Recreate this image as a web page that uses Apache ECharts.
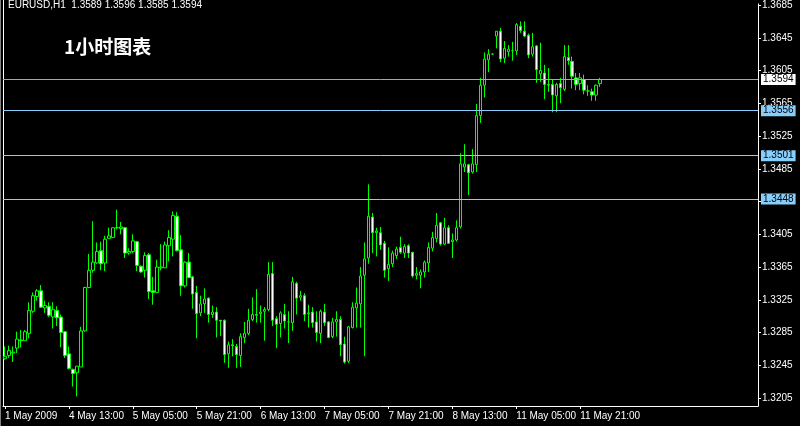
<!DOCTYPE html>
<html>
<head>
<meta charset="utf-8">
<script src="https://cdn.jsdelivr.net/npm/echarts@6/dist/echarts.min.js"></script>
<style>
html,body{margin:0;padding:0;background:#000;}
#c{width:800px;height:426px;}
</style>
</head>
<body>
<div id="c"></div>
<script>
// ---- data (EURUSD H1, 150 bars) ----
var open = [1.3253,1.3257,1.3260,1.3266,1.3276,1.3275,1.3284,1.3311,1.3329,1.3336,
1.3315,1.3317,1.3304,1.3312,1.3304,1.3286,1.3259,1.3240,1.3236,1.3243,
1.3287,1.3340,1.3361,1.3370,1.3385,1.3370,1.3400,1.3401,1.3413,1.3412,
1.3413,1.3382,1.3384,1.3396,1.3366,1.3361,1.3380,1.3336,1.3334,1.3364,
1.3364,1.3391,1.3399,1.3427,1.3386,1.3342,1.3371,1.3353,1.3334,1.3309,
1.3320,1.3327,1.3307,1.3310,1.3300,1.3300,1.3259,1.3270,1.3268,1.3257,
1.3279,1.3284,1.3301,1.3306,1.3308,1.3311,1.3313,1.3357,1.3302,1.3296,
1.3307,1.3298,1.3297,1.3345,1.3328,1.3330,1.3308,1.3310,1.3298,1.3284,
1.3310,1.3298,1.3280,1.3298,1.3301,1.3271,1.3250,1.3291,1.3315,1.3320,
1.3355,1.3376,1.3426,1.3407,1.3407,1.3394,1.3363,1.3369,1.3379,1.3389,
1.3382,1.3391,1.3383,1.3355,1.3355,1.3359,1.3370,1.3388,1.3400,1.3419,
1.3393,1.3413,1.3396,1.3398,1.3414,1.3487,1.3490,1.3481,1.3490,1.3550,
1.3587,1.3618,1.3625,1.3647,1.3653,1.3620,1.3628,1.3629,1.3629,1.3659,
1.3653,1.3648,1.3625,1.3635,1.3601,1.3602,1.3587,1.3588,1.3574,1.3589,
1.3582,1.3621,1.3616,1.3596,1.3589,1.3594,1.3580,1.3579,1.3575,1.3589];
var high = [1.3268,1.3269,1.3268,1.3286,1.3288,1.3288,1.3322,1.3334,1.3338,1.3343,
1.3324,1.3322,1.3322,1.3317,1.3307,1.3287,1.3268,1.3241,1.3244,1.3292,
1.3341,1.3381,1.3421,1.3395,1.3396,1.3403,1.3413,1.3413,1.3435,1.3420,
1.3414,1.3388,1.3405,1.3397,1.3367,1.3383,1.3382,1.3353,1.3374,1.3393,
1.3396,1.3410,1.3433,1.3432,1.3404,1.3372,1.3382,1.3354,1.3342,1.3330,
1.3339,1.3328,1.3318,1.3316,1.3300,1.3301,1.3274,1.3277,1.3271,1.3284,
1.3298,1.3314,1.3328,1.3338,1.3318,1.3316,1.3371,1.3371,1.3305,1.3311,
1.3320,1.3311,1.3353,1.3347,1.3336,1.3333,1.3319,1.3316,1.3311,1.3313,
1.3320,1.3299,1.3303,1.3311,1.3305,1.3280,1.3293,1.3322,1.3340,1.3365,
1.3395,1.3466,1.3431,1.3413,1.3414,1.3397,1.3389,1.3385,1.3390,1.3402,
1.3393,1.3393,1.3383,1.3365,1.3362,1.3373,1.3395,1.3408,1.3431,1.3420,
1.3425,1.3416,1.3406,1.3422,1.3504,1.3515,1.3491,1.3509,1.3564,1.3596,
1.3627,1.3631,1.3626,1.3653,1.3657,1.3641,1.3636,1.3640,1.3663,1.3665,
1.3665,1.3650,1.3651,1.3636,1.3639,1.3612,1.3608,1.3594,1.3590,1.3596,
1.3636,1.3636,1.3622,1.3602,1.3602,1.3600,1.3587,1.3583,1.3588,1.3596];
var low = [1.3252,1.3254,1.3249,1.3260,1.3267,1.3275,1.3278,1.3309,1.3324,1.3315,
1.3309,1.3304,1.3290,1.3293,1.3267,1.3254,1.3240,1.3219,1.3207,1.3243,
1.3286,1.3339,1.3358,1.3369,1.3361,1.3360,1.3400,1.3401,1.3411,1.3405,
1.3376,1.3380,1.3382,1.3360,1.3358,1.3352,1.3326,1.3319,1.3334,1.3361,
1.3364,1.3372,1.3378,1.3384,1.3330,1.3340,1.3352,1.3314,1.3278,1.3305,
1.3309,1.3297,1.3303,1.3279,1.3281,1.3248,1.3242,1.3256,1.3242,1.3243,
1.3272,1.3282,1.3299,1.3297,1.3297,1.3275,1.3311,1.3293,1.3266,1.3279,
1.3290,1.3272,1.3287,1.3307,1.3324,1.3299,1.3291,1.3291,1.3274,1.3272,
1.3293,1.3278,1.3278,1.3280,1.3256,1.3247,1.3248,1.3290,1.3291,1.3291,
1.3256,1.3369,1.3382,1.3378,1.3386,1.3352,1.3348,1.3365,1.3375,1.3381,
1.3376,1.3376,1.3352,1.3350,1.3339,1.3352,1.3359,1.3384,1.3395,1.3391,
1.3392,1.3393,1.3376,1.3396,1.3412,1.3481,1.3453,1.3479,1.3481,1.3541,
1.3572,1.3603,1.3625,1.3632,1.3615,1.3614,1.3622,1.3617,1.3624,1.3651,
1.3646,1.3620,1.3622,1.3590,1.3591,1.3570,1.3579,1.3554,1.3554,1.3565,
1.3580,1.3612,1.3583,1.3581,1.3581,1.3576,1.3574,1.3568,1.3568,1.3585];
var close = [1.3256,1.3263,1.3261,1.3277,1.3275,1.3286,1.3312,1.3330,1.3336,1.3316,
1.3318,1.3306,1.3313,1.3303,1.3285,1.3257,1.3241,1.3235,1.3244,1.3287,
1.3340,1.3361,1.3371,1.3384,1.3369,1.3399,1.3403,1.3413,1.3413,1.3414,
1.3382,1.3384,1.3397,1.3367,1.3359,1.3379,1.3335,1.3334,1.3365,1.3365,
1.3392,1.3401,1.3428,1.3385,1.3342,1.3371,1.3352,1.3332,1.3308,1.3320,
1.3326,1.3307,1.3310,1.3300,1.3299,1.3258,1.3270,1.3269,1.3258,1.3280,
1.3284,1.3300,1.3307,1.3307,1.3310,1.3313,1.3356,1.3300,1.3295,1.3309,
1.3299,1.3298,1.3347,1.3327,1.3330,1.3307,1.3309,1.3297,1.3285,1.3311,
1.3297,1.3279,1.3298,1.3301,1.3270,1.3249,1.3292,1.3316,1.3321,1.3354,
1.3375,1.3427,1.3407,1.3409,1.3392,1.3361,1.3368,1.3382,1.3387,1.3383,
1.3390,1.3382,1.3354,1.3357,1.3359,1.3371,1.3389,1.3401,1.3416,1.3393,
1.3413,1.3394,1.3398,1.3413,1.3491,1.3491,1.3480,1.3491,1.3550,1.3587,
1.3619,1.3625,1.3625,1.3653,1.3619,1.3632,1.3631,1.3629,1.3661,1.3654,
1.3647,1.3624,1.3634,1.3606,1.3605,1.3588,1.3588,1.3575,1.3588,1.3584,
1.3622,1.3617,1.3598,1.3588,1.3596,1.3581,1.3580,1.3575,1.3587,1.3594];

var tickLabels = ['1 May 2009','4 May 13:00','5 May 05:00','5 May 21:00','6 May 13:00',
                  '7 May 05:00','7 May 21:00','8 May 13:00','11 May 05:00','11 May 21:00'];
var barsPerTick = 16;
var totalSlots = 189;   // chart is shifted: empty space to the right of the last bar
var yTicks = [1.3205,1.3245,1.3285,1.3325,1.3365,1.3405,1.3445,1.3485,1.3525,1.3565,1.3605,1.3645,1.3685];
var levelValues = [1.3594, 1.3556, 1.3501, 1.3448];
var levelColors = ['#a0a8b0', '#87cefa', '#87cefa', '#87cefa'];
var levelBoxColors = ['#ffffff', '#87cefa', '#87cefa', '#87cefa'];
var symbolText = 'EURUSD,H1  1.3589 1.3596 1.3585 1.3594';
var titleText = '1小时图表';

// ---- build ----
var slots = [];
for (var i = 0; i < totalSlots; i++) slots.push(String(i));
var ohlc = [];
for (var j = 0; j < open.length; j++) ohlc.push([open[j], close[j], low[j], high[j]]);

var FONT = "'Liberation Sans',Arial,sans-serif";

function isTick(idx) { return idx % barsPerTick === 0 && idx / barsPerTick < tickLabels.length; }

var levelSeries = levelValues.map(function (v, k) {
  return {
    type: 'line', data: [], silent: true, z: 1,
    markLine: {
      silent: true, symbol: ['none', 'none'], animation: false, precision: 4,
      lineStyle: { color: levelColors[k], width: 1, type: 'solid' },
      label: {
        show: true, position: 'end', distance: 3,
        formatter: v.toFixed(4),
        backgroundColor: levelBoxColors[k],
        color: '#000', fontFamily: FONT, fontSize: 10,
        padding: [1, 2, 0, 2], lineHeight: 10
      },
      data: [{ yAxis: v }]
    }
  };
});

var chart = echarts.init(document.getElementById('c'), null, { renderer: 'canvas' });
chart.setOption({
  animation: false,
  backgroundColor: '#000',
  grid: { left: 3, right: 42, top: 0, bottom: 20, containLabel: false },
  xAxis: {
    type: 'category', data: slots, boundaryGap: true,
    axisLine: { show: true, lineStyle: { color: '#ffffff', width: 1 } },
    axisTick: { show: true, alignWithLabel: true, length: 3, interval: function (idx) { return isTick(idx); }, lineStyle: { color: '#fff' } },
    axisLabel: {
      show: true, interval: function (idx) { return isTick(idx); },
      formatter: function (v, idx) { return tickLabels[Math.round(idx / barsPerTick)] || ''; },
      align: 'left', color: '#fff', fontFamily: FONT, fontSize: 10, margin: 5
    },
    splitLine: { show: false }
  },
  yAxis: {
    type: 'value', position: 'right', scale: true,
    min: 1.31953, max: 1.36863,
    axisLine: { show: true, lineStyle: { color: '#fff', width: 1 } },
    axisTick: { show: true, length: 3, customValues: yTicks, lineStyle: { color: '#fff' } },
    axisLabel: {
      show: true, customValues: yTicks, color: '#fff', fontFamily: FONT, fontSize: 10, margin: 4,
      formatter: function (v) { return v.toFixed(4); }
    },
    splitLine: { show: false }
  },
  series: levelSeries.concat([{
    type: 'candlestick',
    data: ohlc,
    barWidth: 3,
    z: 3,
    itemStyle: {
      color: '#000000', color0: '#ffffff',
      borderColor: '#00ff00', borderColor0: '#00ff00', borderWidth: 1
    }
  }]),
  graphic: [
    { type: 'line', shape: { x1: 0.5, y1: 0, x2: 0.5, y2: 426 }, style: { stroke: '#808080', lineWidth: 1 } },
    { type: 'line', shape: { x1: 3.5, y1: 0, x2: 3.5, y2: 406 }, style: { stroke: '#ffffff', lineWidth: 1 } },
    { type: 'text', left: 8, top: 0, style: { text: symbolText, fill: '#fff', font: "10px " + FONT } },
    { type: 'text', left: 64, top: 37, style: { text: titleText, fill: '#fff', font: "bold 19px 'Noto Sans CJK SC', sans-serif" } }
  ]
});
</script>
</body>
</html>
